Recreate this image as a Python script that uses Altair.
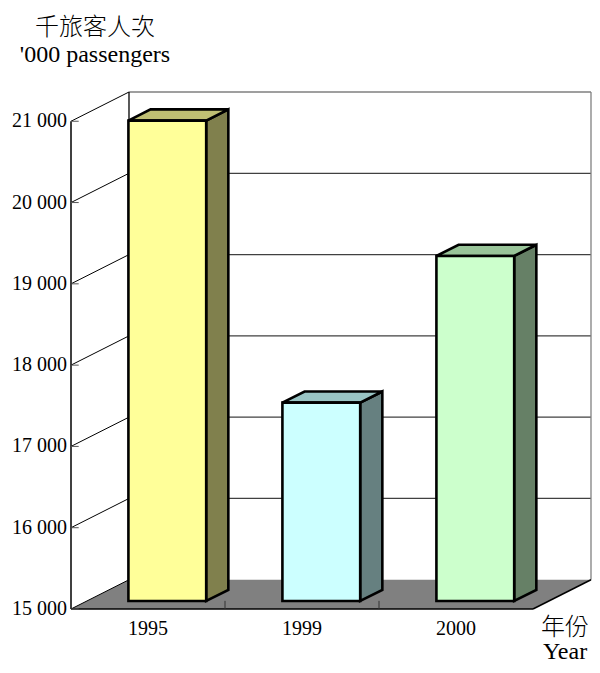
import altair as alt
import pandas as pd

# ---- data ----
years = ["1995", "1999", "2000"]
passengers = [20910, 17440, 19245]
front_colors = ["#FFFF99", "#CCFFFF", "#CCFFCC"]
top_colors = ["#BFBF73", "#99C4C4", "#99C499"]
side_colors = ["#80804D", "#668080", "#668066"]
y_ticks = [15000, 16000, 17000, 18000, 19000, 20000, 21000]
y_tick_labels = ["15 000", "16 000", "17 000", "18 000", "19 000", "20 000", "21 000"]
y_title = ["千旅客人次", "'000 passengers"]
x_title = ["年份", "Year"]

# ---- 3D box geometry (in data units) ----
Y_MIN, Y_MAX = 15000, 21000
N = len(years)
WALL_DX = 0.3766   # box depth along x (category units)
WALL_DY = 360      # box depth along y (value units)
BAR_F = 0.273      # depth position of bar front face (fraction of box depth)
BAR_D = 0.382      # bar depth (fraction of box depth)
BAR_START = 0.27
BAR_W = 0.505

FONT = "Liberation Serif, Noto Sans CJK TC"

xs = alt.Scale(domain=[0, N + WALL_DX], nice=False, zero=False)
ys = alt.Scale(domain=[Y_MIN, Y_MAX + WALL_DY], nice=False, zero=False)


def X(f="x"):
    return alt.X(f"{f}:Q", scale=xs, axis=None)


def Y(f="y"):
    return alt.Y(f"{f}:Q", scale=ys, axis=None, stack=None)


# floor
floor_df = pd.DataFrame({
    "x": [0, WALL_DX, N, N + WALL_DX],
    "y": [Y_MIN, Y_MIN + WALL_DY, Y_MIN + WALL_DY, Y_MIN + WALL_DY],
    "y2": [Y_MIN, Y_MIN, Y_MIN, Y_MIN + WALL_DY],
})
floor = alt.Chart(floor_df).mark_area(color="#808080", opacity=1).encode(
    x=X(), y=Y(), y2="y2:Q"
)

# back wall gridlines
back_df = pd.DataFrame({
    "x": [WALL_DX] * (len(y_ticks) - 1),
    "x2": [N + WALL_DX] * (len(y_ticks) - 1),
    "y": [v + WALL_DY for v in y_ticks[1:]],
})
back_grid = alt.Chart(back_df).mark_rule(color="#404040", strokeWidth=1.2).encode(
    x=X(), x2="x2:Q", y=Y()
)

# left wall diagonal gridlines
left_df = pd.DataFrame({
    "x": [0] * len(y_ticks),
    "x2": [WALL_DX] * len(y_ticks),
    "y": y_ticks,
    "y2": [v + WALL_DY for v in y_ticks],
})
left_grid = alt.Chart(left_df).mark_rule(color="black", strokeWidth=1).encode(
    x=X(), x2="x2:Q", y=Y(), y2="y2:Q"
)

# back wall vertical edges
wall_edges_df = pd.DataFrame({
    "x": [WALL_DX, N + WALL_DX],
    "y": [Y_MIN + WALL_DY, Y_MIN + WALL_DY],
    "y2": [Y_MAX + WALL_DY, Y_MAX + WALL_DY],
    "c": ["black", "#808080"],
})
wall_edges = alt.Chart(wall_edges_df).mark_rule(strokeWidth=1.3).encode(
    x=X(), y=Y(), y2="y2:Q", color=alt.Color("c:N", scale=None)
)

# floor front and right edges
floor_edges_df = pd.DataFrame({
    "x": [0, N],
    "x2": [N, N + WALL_DX],
    "y": [Y_MIN, Y_MIN],
    "y2": [Y_MIN, Y_MIN + WALL_DY],
})
floor_edges = alt.Chart(floor_edges_df).mark_rule(color="black", strokeWidth=1.5).encode(
    x=X(), x2="x2:Q", y=Y(), y2="y2:Q"
)

# category boundary ticks on the floor front edge
xtick_df = pd.DataFrame({
    "x": list(range(1, N)),
    "y": [Y_MIN] * (N - 1),
    "y2": [Y_MIN + 100] * (N - 1),
})
xticks = alt.Chart(xtick_df).mark_rule(color="#333333", strokeWidth=1).encode(
    x=X(), y=Y(), y2="y2:Q"
)

# bars
bx = BAR_D * WALL_DX
by = BAR_D * WALL_DY
yb = Y_MIN + BAR_F * WALL_DY
front_rows, top_rows, side_rows = [], [], []
for i, (yr, v) in enumerate(zip(years, passengers)):
    x0 = i + BAR_START + BAR_F * WALL_DX
    x1 = x0 + BAR_W
    yt = v + BAR_F * WALL_DY
    front_rows.append({"year": yr, "x": x0, "x2": x1, "y": yb, "y2": yt, "c": front_colors[i]})
    pts = [(x0, yt, yt), (x0 + bx, yt + by, yt), (x1, yt + by, yt), (x1 + bx, yt + by, yt + by)]
    for px, pu, pl in pts:
        top_rows.append({"year": yr, "x": px, "y": pu, "y2": pl, "c": top_colors[i]})
    for px, pu, pl in [(x1, yt, yb), (x1 + bx, yt + by, yb + by)]:
        side_rows.append({"year": yr, "x": px, "y": pu, "y2": pl, "c": side_colors[i]})

BAR_SW = 2.6
side = alt.Chart(pd.DataFrame(side_rows)).mark_area(
    stroke="black", strokeWidth=BAR_SW, opacity=1, strokeJoin="miter"
).encode(x=X(), y=Y(), y2="y2:Q", detail="year:N",
         fill=alt.Fill("c:N", scale=None))
top = alt.Chart(pd.DataFrame(top_rows)).mark_area(
    stroke="black", strokeWidth=BAR_SW, opacity=1, strokeJoin="miter"
).encode(x=X(), y=Y(), y2="y2:Q", detail="year:N",
         fill=alt.Fill("c:N", scale=None))
front = alt.Chart(pd.DataFrame(front_rows)).mark_rect(
    stroke="black", strokeWidth=BAR_SW, opacity=1
).encode(x=X(), x2="x2:Q", y=Y(), y2="y2:Q", fill=alt.Fill("c:N", scale=None))

# front value axis line, ticks and labels
axis_df = pd.DataFrame({"x": [0], "y": [Y_MIN], "y2": [Y_MAX]})
axis_line = alt.Chart(axis_df).mark_rule(color="black", strokeWidth=1.5).encode(
    x=X(), y=Y(), y2="y2:Q"
)
ytick_df = pd.DataFrame({"x": [0] * len(y_ticks), "x2": [0.05] * len(y_ticks),
                         "y": y_ticks, "t": y_tick_labels})
yticks = alt.Chart(ytick_df).mark_rule(color="#555555", strokeWidth=1).encode(
    x=X(), x2="x2:Q", y=Y()
)
ylabels = alt.Chart(ytick_df).mark_text(
    font="Liberation Serif", fontSize=20, color="black", align="right", baseline="middle", dx=-4
).encode(x=X(), y=Y(), text="t:N")

# category labels
lab_df = pd.DataFrame({"x": [i + 0.5 for i in range(N)], "y": [Y_MIN] * N, "t": years})
cat_labels = alt.Chart(lab_df).mark_text(
    font="Liberation Serif", fontSize=20, color="black", dy=26, baseline="alphabetic", align="center"
).encode(x=X(), y=Y(), text="t:N")

# titles
def title_text(txt, px, py):
    return alt.Chart(pd.DataFrame({"t": [txt]})).mark_text(
        font=FONT, fontSize=24, fontWeight=300, color="black", align="center", baseline="alphabetic"
    ).encode(x=alt.value(px), y=alt.value(py), text="t:N")

titles = [
    title_text(y_title[0], 24, -57),
    title_text(y_title[1], 24, -30),
    title_text(x_title[0], 494, 543),
    title_text(x_title[1], 494, 567),
]

chart = alt.layer(
    floor, back_grid, left_grid, wall_edges, floor_edges, xticks,
    side, top, front, axis_line, yticks, ylabels, cat_labels, *titles
).properties(
    width=520, height=517,
    padding={"left": 63, "top": 84, "right": 1, "bottom": 56},
    autosize=alt.AutoSizeParams(type="none"),
    background="white",
).configure_view(stroke=None)

chart.save("out.html", embed_options={"renderer": "svg", "actions": False})
